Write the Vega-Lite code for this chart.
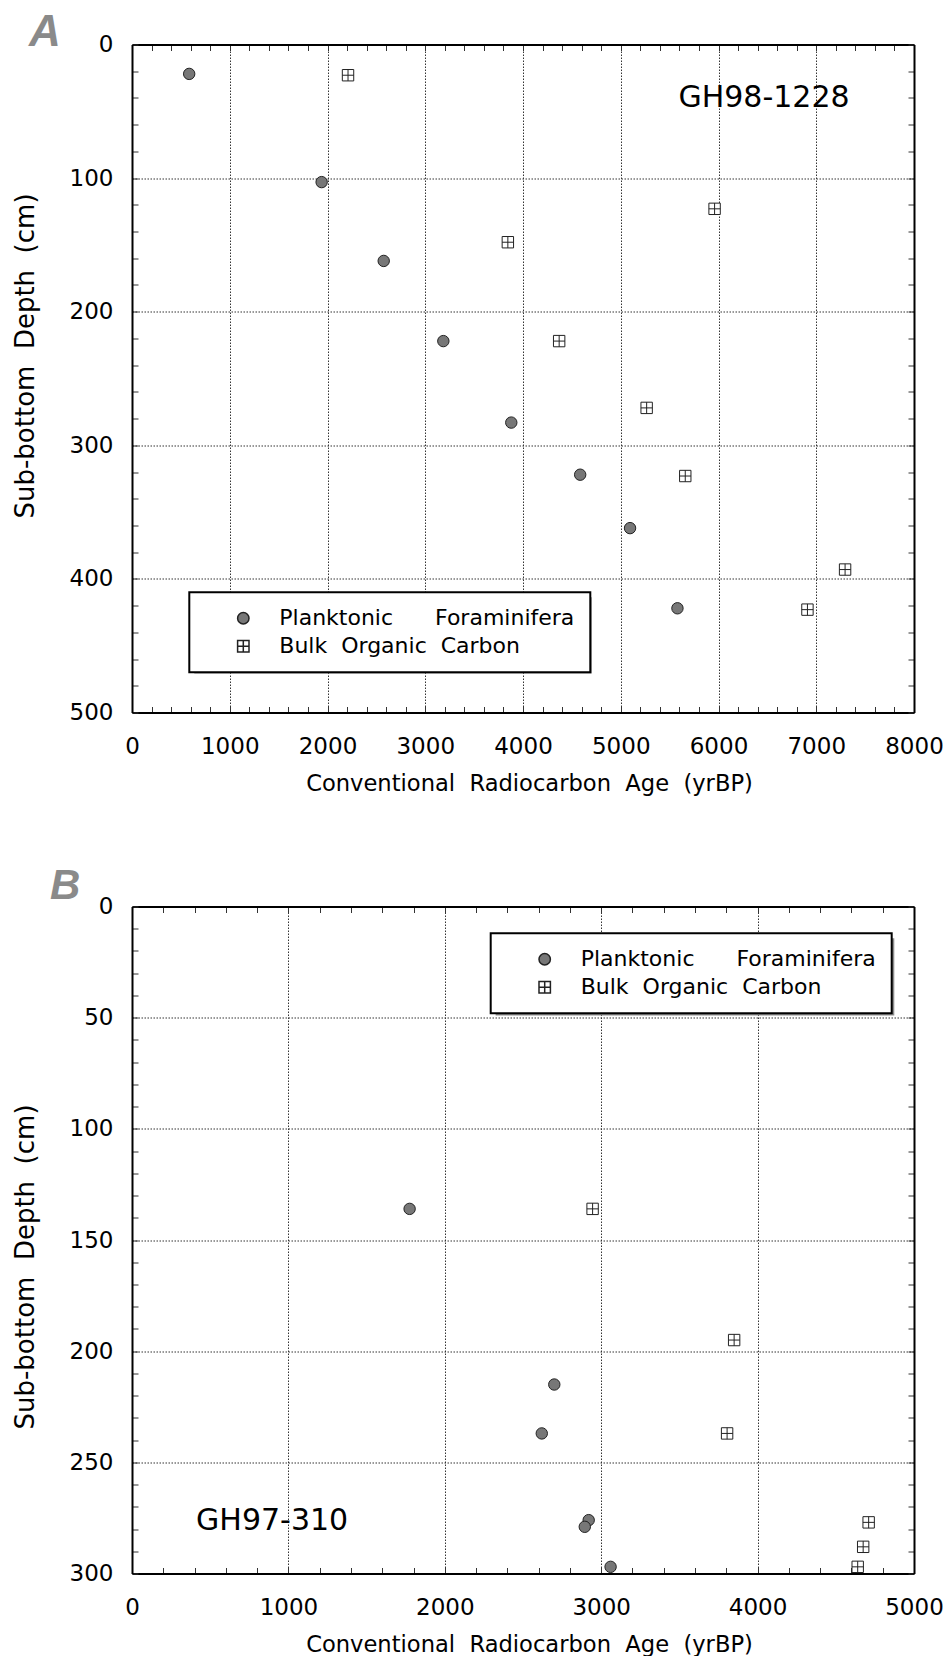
{
  "$schema": "https://vega.github.io/schema/vega-lite/v6.json",
  "background": "white",
  "padding": {"left": 12, "top": 10.5, "right": 5, "bottom": 5},
  "datasets": {
    "coreA": [
      {"type": "Planktonic Foraminifera", "age": 585, "depth": 22},
      {"type": "Planktonic Foraminifera", "age": 1940, "depth": 103},
      {"type": "Planktonic Foraminifera", "age": 2575, "depth": 162},
      {"type": "Planktonic Foraminifera", "age": 3185, "depth": 222},
      {"type": "Planktonic Foraminifera", "age": 3880, "depth": 283},
      {"type": "Planktonic Foraminifera", "age": 4585, "depth": 322},
      {"type": "Planktonic Foraminifera", "age": 5095, "depth": 362},
      {"type": "Planktonic Foraminifera", "age": 5580, "depth": 422},
      {"type": "Bulk Organic Carbon", "age": 2210, "depth": 23},
      {"type": "Bulk Organic Carbon", "age": 3845, "depth": 148},
      {"type": "Bulk Organic Carbon", "age": 5960, "depth": 123},
      {"type": "Bulk Organic Carbon", "age": 4370, "depth": 222},
      {"type": "Bulk Organic Carbon", "age": 5265, "depth": 272},
      {"type": "Bulk Organic Carbon", "age": 5660, "depth": 323},
      {"type": "Bulk Organic Carbon", "age": 7295, "depth": 393},
      {"type": "Bulk Organic Carbon", "age": 6910, "depth": 423}
    ],
    "coreB": [
      {"type": "Planktonic Foraminifera", "age": 1775, "depth": 136},
      {"type": "Planktonic Foraminifera", "age": 2700, "depth": 215},
      {"type": "Planktonic Foraminifera", "age": 2620, "depth": 237},
      {"type": "Planktonic Foraminifera", "age": 2920, "depth": 276},
      {"type": "Planktonic Foraminifera", "age": 2895, "depth": 279},
      {"type": "Planktonic Foraminifera", "age": 3060, "depth": 297},
      {"type": "Bulk Organic Carbon", "age": 2945, "depth": 136},
      {"type": "Bulk Organic Carbon", "age": 3850, "depth": 195},
      {"type": "Bulk Organic Carbon", "age": 3805, "depth": 237},
      {"type": "Bulk Organic Carbon", "age": 4710, "depth": 277},
      {"type": "Bulk Organic Carbon", "age": 4675, "depth": 288},
      {"type": "Bulk Organic Carbon", "age": 4640, "depth": 297}
    ]
  },
  "spacing": 69,
  "vconcat": [
    {
      "width": 782,
      "height": 668,
      "title": {"text": "A", "anchor": "start", "frame": "group", "dx": -103, "offset": -56, "baseline": "alphabetic", "font": "Liberation Sans", "fontSize": 44, "fontWeight": "bold", "fontStyle": "italic", "color": "#8a8a8a"},
      "layer": [
        {
          "data": {"values": [{}]},
          "mark": {"type": "rect", "color": "#8c8c8c"},
          "encoding": {
            "x": {"datum": 637, "type": "quantitative", "scale": {"domain": [0, 8000], "nice": false}, "axis": null},
            "x2": {"datum": 4703},
            "y": {"datum": 413.7, "type": "quantitative", "scale": {"domain": [0, 500], "nice": false, "reverse": true}, "axis": null},
            "y2": {"datum": 470.8}
          }
        },
        {
          "data": {"name": "coreA"},
          "mark": {"type": "point", "filled": true, "size": 130, "stroke": "#222", "strokeWidth": 1, "opacity": 1},
          "encoding": {
            "x": {"field": "age", "type": "quantitative", "scale": {"domain": [0, 8000], "nice": false},
              "axis": {"orient": "bottom", "tickCount": 40, "format": "d", "labelExpr": "datum.value % 1000 === 0 ? datum.label : ''", "grid": true, "gridOpacity": {"condition": {"test": "datum.value % 1000 === 0", "value": 1}, "value": 0}, "title": "Conventional\u00a0\u00a0Radiocarbon\u00a0\u00a0Age\u00a0\u00a0(yrBP)", "titleFontSize": 22.6, "titleX": 397, "labelPadding": 29, "titlePadding": 14, "labelFlush": false, "labelOverlap": false}},
            "y": {"field": "depth", "type": "quantitative", "scale": {"domain": [0, 500], "nice": false, "reverse": true},
              "axis": {"orient": "left", "tickCount": 25, "format": "d", "labelExpr": "datum.value % 100 === 0 ? datum.label : ''", "grid": true, "gridOpacity": {"condition": {"test": "datum.value % 100 === 0", "value": 1}, "value": 0}, "title": "Sub-bottom\u00a0\u00a0Depth\u00a0\u00a0(cm)", "titleFontSize": 26, "titleY": 311, "labelPadding": 25, "titlePadding": 31, "labelFlush": false, "labelOverlap": false}},
            "shape": {"field": "type", "type": "nominal",
              "scale": {"domain": ["Planktonic Foraminifera", "Bulk Organic Carbon"], "range": ["circle", "M-1,-1H1V1H-1ZM0,-1V1M-1,0H1"]},
              "legend": {"orient": "none", "legendX": 57.3, "legendY": 547.7, "title": null, "fillColor": "white", "strokeColor": "black", "padding": 15, "labelFont": "DejaVu Sans", "labelFontSize": 22, "labelColor": "black", "labelOffset": 25, "symbolOffset": 28, "rowPadding": 6, "symbolSize": 130, "labelLimit": 500,
                "labelExpr": "datum.label == 'Planktonic Foraminifera' ? 'Planktonic\u00a0\u00a0\u00a0\u00a0\u00a0\u00a0Foraminifera' : 'Bulk\u00a0\u00a0Organic\u00a0\u00a0Carbon'",
                "encode": {"symbols": {"update": {"stroke": {"value": "#222"}, "strokeWidth": {"value": 1}, "opacity": {"value": 1}}}}}},
            "fill": {"field": "type", "type": "nominal",
              "scale": {"domain": ["Planktonic Foraminifera", "Bulk Organic Carbon"], "range": ["#777777", "#ffffff"]}}
          }
        },
        {
          "data": {"values": [{}]},
          "mark": {"type": "text", "text": "GH98-1228", "font": "DejaVu Sans", "fontSize": 30, "align": "left", "baseline": "alphabetic", "color": "black"},
          "encoding": {
            "x": {"datum": 5590, "type": "quantitative", "axis": {"orient": "top", "tickCount": 40, "labels": false, "title": null, "grid": false}},
            "y": {"datum": 47, "type": "quantitative", "axis": {"orient": "right", "tickCount": 25, "labels": false, "title": null, "grid": false}}
          }
        }
      ],
      "resolve": {"axis": {"x": "independent", "y": "independent"}}
    },
    {
      "width": 782,
      "height": 667,
      "title": {"text": "B", "anchor": "start", "frame": "group", "dx": -82, "offset": -45.5, "baseline": "alphabetic", "font": "Liberation Sans", "fontSize": 42, "fontWeight": "bold", "fontStyle": "italic", "color": "#8a8a8a"},
      "layer": [
        {
          "data": {"values": [{}]},
          "mark": {"type": "rect", "color": "#8c8c8c"},
          "encoding": {
            "x": {"datum": 2325, "type": "quantitative", "scale": {"domain": [0, 5000], "nice": false}, "axis": null},
            "x2": {"datum": 4874},
            "y": {"datum": 14.3, "type": "quantitative", "scale": {"domain": [0, 300], "nice": false, "reverse": true}, "axis": null},
            "y2": {"datum": 49.0}
          }
        },
        {
          "data": {"name": "coreB"},
          "mark": {"type": "point", "filled": true, "size": 130, "stroke": "#222", "strokeWidth": 1, "opacity": 1},
          "encoding": {
            "x": {"field": "age", "type": "quantitative", "scale": {"domain": [0, 5000], "nice": false},
              "axis": {"orient": "bottom", "tickCount": 25, "format": "d", "labelExpr": "datum.value % 1000 === 0 ? datum.label : ''", "grid": true, "gridOpacity": {"condition": {"test": "datum.value % 1000 === 0", "value": 1}, "value": 0}, "title": "Conventional\u00a0\u00a0Radiocarbon\u00a0\u00a0Age\u00a0\u00a0(yrBP)", "titleFontSize": 22.6, "titleX": 397, "labelPadding": 29, "titlePadding": 14, "labelFlush": false, "labelOverlap": false}},
            "y": {"field": "depth", "type": "quantitative", "scale": {"domain": [0, 300], "nice": false, "reverse": true},
              "axis": {"orient": "left", "tickCount": 30, "format": "d", "labelExpr": "datum.value % 50 === 0 ? datum.label : ''", "grid": true, "gridOpacity": {"condition": {"test": "datum.value % 50 === 0", "value": 1}, "value": 0}, "title": "Sub-bottom\u00a0\u00a0Depth\u00a0\u00a0(cm)", "titleFontSize": 26, "titleY": 360, "labelPadding": 25, "titlePadding": 31, "labelFlush": false, "labelOverlap": false}},
            "shape": {"field": "type", "type": "nominal",
              "scale": {"domain": ["Planktonic Foraminifera", "Bulk Organic Carbon"], "range": ["circle", "M-1,-1H1V1H-1ZM0,-1V1M-1,0H1"]},
              "legend": {"orient": "none", "legendX": 358.7, "legendY": 26.7, "title": null, "fillColor": "white", "strokeColor": "black", "padding": 15, "labelFont": "DejaVu Sans", "labelFontSize": 22, "labelColor": "black", "labelOffset": 25, "symbolOffset": 28, "rowPadding": 6, "symbolSize": 130, "labelLimit": 500,
                "labelExpr": "datum.label == 'Planktonic Foraminifera' ? 'Planktonic\u00a0\u00a0\u00a0\u00a0\u00a0\u00a0Foraminifera' : 'Bulk\u00a0\u00a0Organic\u00a0\u00a0Carbon'",
                "encode": {"symbols": {"update": {"stroke": {"value": "#222"}, "strokeWidth": {"value": 1}, "opacity": {"value": 1}}}}}},
            "fill": {"field": "type", "type": "nominal",
              "scale": {"domain": ["Planktonic Foraminifera", "Bulk Organic Carbon"], "range": ["#777777", "#ffffff"]}}
          }
        },
        {
          "data": {"values": [{}]},
          "mark": {"type": "text", "text": "GH97-310", "font": "DejaVu Sans", "fontSize": 30, "align": "left", "baseline": "alphabetic", "color": "black"},
          "encoding": {
            "x": {"datum": 410, "type": "quantitative", "axis": {"orient": "top", "tickCount": 25, "labels": false, "title": null, "grid": false}},
            "y": {"datum": 280.4, "type": "quantitative", "axis": {"orient": "right", "tickCount": 30, "labels": false, "title": null, "grid": false}}
          }
        }
      ],
      "resolve": {"axis": {"x": "independent", "y": "independent"}}
    }
  ],
  "resolve": {"scale": {"shape": "independent", "fill": "independent"}, "legend": {"shape": "independent", "fill": "independent"}},
  "config": {
    "view": {"stroke": null},
    "font": "DejaVu Sans",
    "legend": {"strokeWidth": 2},
    "axis": {
      "domainColor": "black", "domainWidth": 2,
      "tickColor": "#333", "tickWidth": 1, "tickSize": -6,
      "gridColor": "#333", "gridDash": [1.5, 1.5], "gridWidth": 1,
      "labelFont": "DejaVu Sans", "labelFontSize": 23, "labelColor": "black",
      "titleFont": "DejaVu Sans", "titleFontSize": 22, "titleFontWeight": "normal", "titleColor": "black"
    }
  }
}
